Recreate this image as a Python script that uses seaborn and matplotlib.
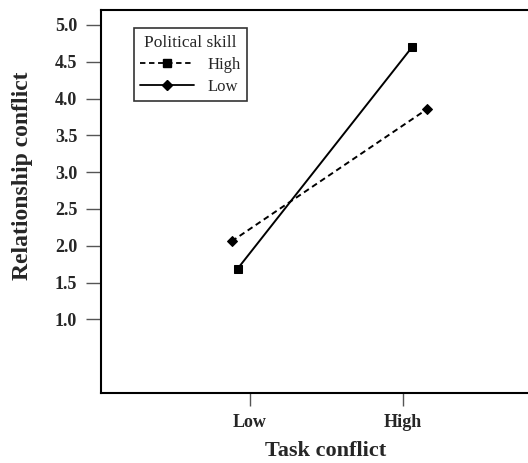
import pandas as pd
import matplotlib.pyplot as plt
import seaborn as sns
from matplotlib.lines import Line2D

# values
task_ticks = [1, 2]
task_labels = ['Low', 'High']
high_x = [0.88, 2.16]
high_y = [2.06, 3.86]
low_x = [0.92, 2.06]
low_y = [1.69, 4.70]
y_ticks = [1.0, 1.5, 2.0, 2.5, 3.0, 3.5, 4.0, 4.5, 5.0]

df = pd.DataFrame({
    'task': high_x + low_x,
    'rel': high_y + low_y,
    'skill': ['High'] * len(high_x) + ['Low'] * len(low_x),
})

sns.set_style('white')
plt.rcParams['font.family'] = ['Liberation Serif', 'DejaVu Serif']

fig = plt.figure(figsize=(5.28, 4.63), dpi=100)
ax = fig.add_axes([0.191, 0.151, 0.809, 0.827])

sns.lineplot(data=df, x='task', y='rel', style='skill', color='black',
             markers={'High': 'D', 'Low': 's'},
             dashes={'High': (3, 2), 'Low': ''},
             markersize=5.5, linewidth=1.4, markeredgecolor='black',
             legend=False, ax=ax, sort=False)

ax.set_xlim(0.026, 2.817)
ax.set_ylim(0, 5.2)
ax.set_xticks(task_ticks)
ax.set_xticklabels(task_labels, fontweight='bold', fontsize=13)
ax.set_yticks(y_ticks)
ax.set_yticklabels([f'{v:.1f}' for v in y_ticks], fontweight='bold', fontsize=13)
ax.tick_params(axis='y', direction='out', length=11, width=1, color='#555555', pad=6, left=True)
ax.tick_params(axis='x', direction='out', length=9, width=1, color='#555555', pad=6, bottom=True)

for side in ['left', 'top', 'bottom']:
    ax.spines[side].set_color('black')
    ax.spines[side].set_linewidth(1.5)
ax.spines['right'].set_visible(False)

ax.set_xlabel('Task conflict', fontsize=16, fontweight='bold')
ax.set_ylabel('Relationship conflict', fontsize=17, fontweight='bold')
ax.xaxis.set_label_coords(0.527, -0.125)
ax.yaxis.set_label_coords(-0.16, 0.567)

handles = [
    Line2D([], [], color='black', linestyle=(0, (3, 2)), marker='s', markersize=6, linewidth=1.3),
    Line2D([], [], color='black', linestyle='-', marker='D', markersize=5, linewidth=1.3),
]
leg = ax.legend(handles, ['High', 'Low'], title='Political skill', loc='upper left',
                bbox_to_anchor=(0.077, 0.953), borderaxespad=0, fontsize=12, title_fontsize=12.5,
                frameon=True, fancybox=False, edgecolor='black', handlelength=3.2,
                borderpad=0.4, labelspacing=0.35)
leg.get_frame().set_linewidth(1.2)

fig.savefig('out.png', dpi=100)
